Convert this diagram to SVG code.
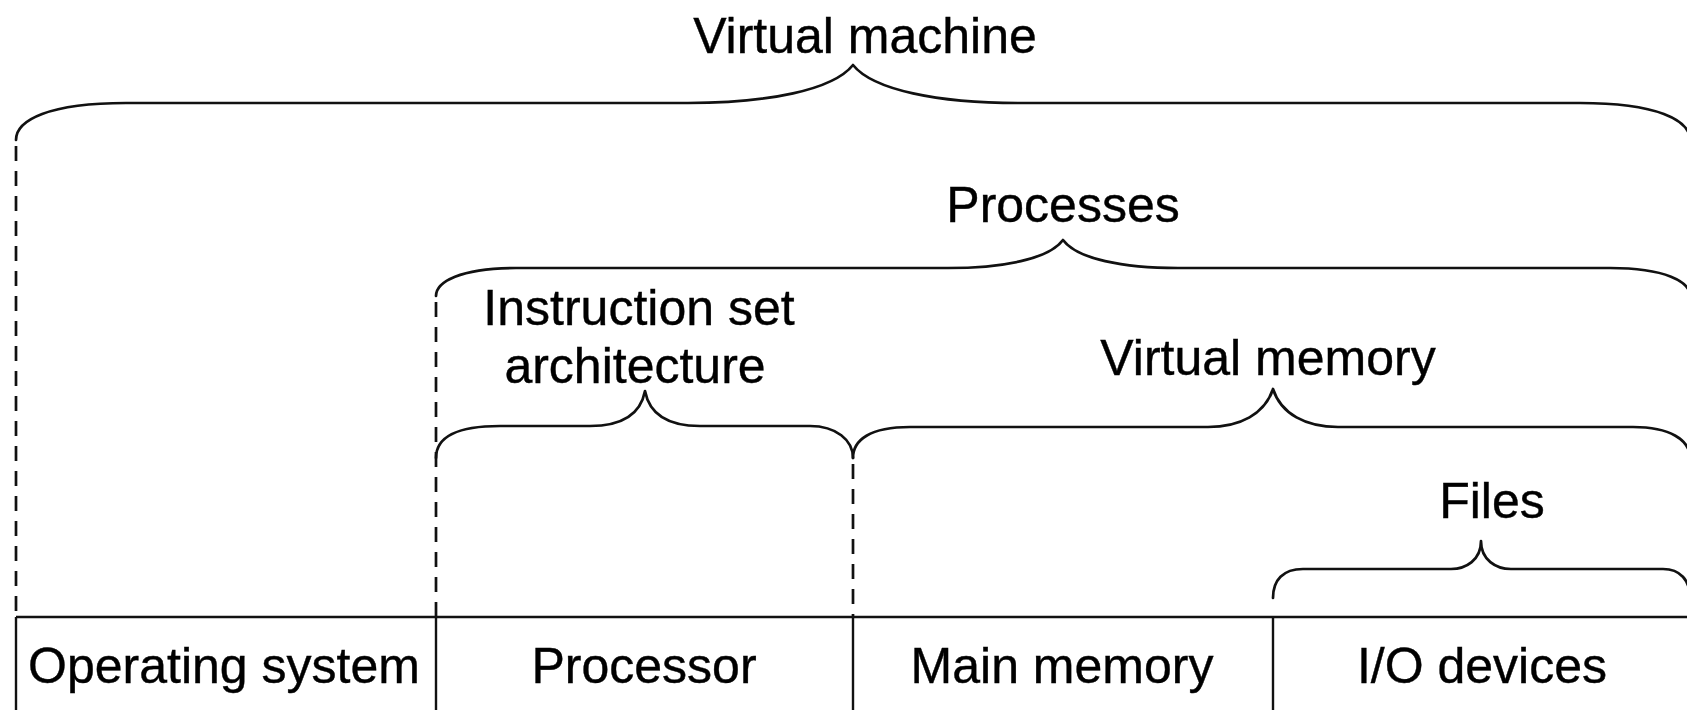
<svg xmlns="http://www.w3.org/2000/svg" width="1687" height="710" viewBox="0 0 1687 710">
  <style>
    .lbl { font-family: "Liberation Sans", Arial, Helvetica, sans-serif; font-size: 50px; fill: #000; stroke: #000; stroke-width: 0.4; text-anchor: middle; }
    .brace { fill: none; stroke: #111; stroke-width: 2.7; stroke-linecap: round; stroke-linejoin: round; }
    .dash { fill: none; stroke: #111; stroke-width: 2.7; stroke-dasharray: 15 10; }
    .rule { fill: none; stroke: #111; stroke-width: 2.4; }
  </style>
  <rect x="0" y="0" width="1687" height="710" fill="#ffffff"/>

  <!-- Braces grouping the abstraction layers -->
  <g id="virtual-machine">
    <text class="lbl" x="865" y="53">Virtual machine</text>
    <path class="brace" d="M16,140 C16,120 49,103 126,103 H688 C768,103 833,90 853,65 C873,90 938,103 1018,103 H1580 C1657,103 1690,120 1690,140"/>
  </g>

  <g id="processes">
    <text class="lbl" x="1063" y="222">Processes</text>
    <path class="brace" d="M436,296 C436,282 460,268 516,268 H948 C1003,268 1049,259 1063,240 C1077,259 1123,268 1178,268 H1610 C1666,268 1690,282 1690,296"/>
  </g>

  <g id="isa">
    <text class="lbl" x="639" y="325">Instruction set</text>
    <text class="lbl" x="635" y="383">architecture</text>
    <path class="brace" d="M436,458 C436,438 456,426 500,426 H590 C618,426 640,417 645,391 C650,417 672,426 700,426 H810 C836,426 853,440 853,458"/>
  </g>

  <g id="virtual-memory">
    <text class="lbl" x="1268" y="375">Virtual memory</text>
    <path class="brace" d="M853,458 C853,440 870,427 910,427 H1208 C1240,427 1265,414 1273,389 C1281,414 1306,427 1338,427 H1633 C1670,427 1690,440 1690,458"/>
  </g>

  <g id="files">
    <text class="lbl" x="1492" y="518">Files</text>
    <path class="brace" d="M1273,598 C1273,580 1283,569 1303,569 H1451 C1466,569 1481,560 1481,541 C1481,560 1496,569 1511,569 H1663 C1680,569 1690,580 1690,598"/>
  </g>

  <!-- Dashed extents dropping from brace ends to the hardware row -->
  <g id="connectors">
    <line class="dash" x1="16" y1="146" x2="16" y2="617"/>
    <line class="dash" x1="436" y1="302" x2="436" y2="617"/>
    <line class="dash" x1="853" y1="464" x2="853" y2="617"/>
  </g>

  <!-- Hardware / OS row -->
  <g id="table">
    <line class="rule" x1="16" y1="617" x2="1687" y2="617"/>
    <line class="rule" x1="16" y1="617" x2="16" y2="710"/>
    <line class="rule" x1="436" y1="617" x2="436" y2="710"/>
    <line class="rule" x1="853" y1="617" x2="853" y2="710"/>
    <line class="rule" x1="1273" y1="617" x2="1273" y2="710"/>
  </g>
  <g id="cell-os"><text class="lbl" x="224" y="683">Operating system</text></g>
  <g id="cell-processor"><text class="lbl" x="644" y="683">Processor</text></g>
  <g id="cell-main-memory"><text class="lbl" x="1062" y="683">Main memory</text></g>
  <g id="cell-io"><text class="lbl" x="1482" y="683">I/O devices</text></g>
</svg>
